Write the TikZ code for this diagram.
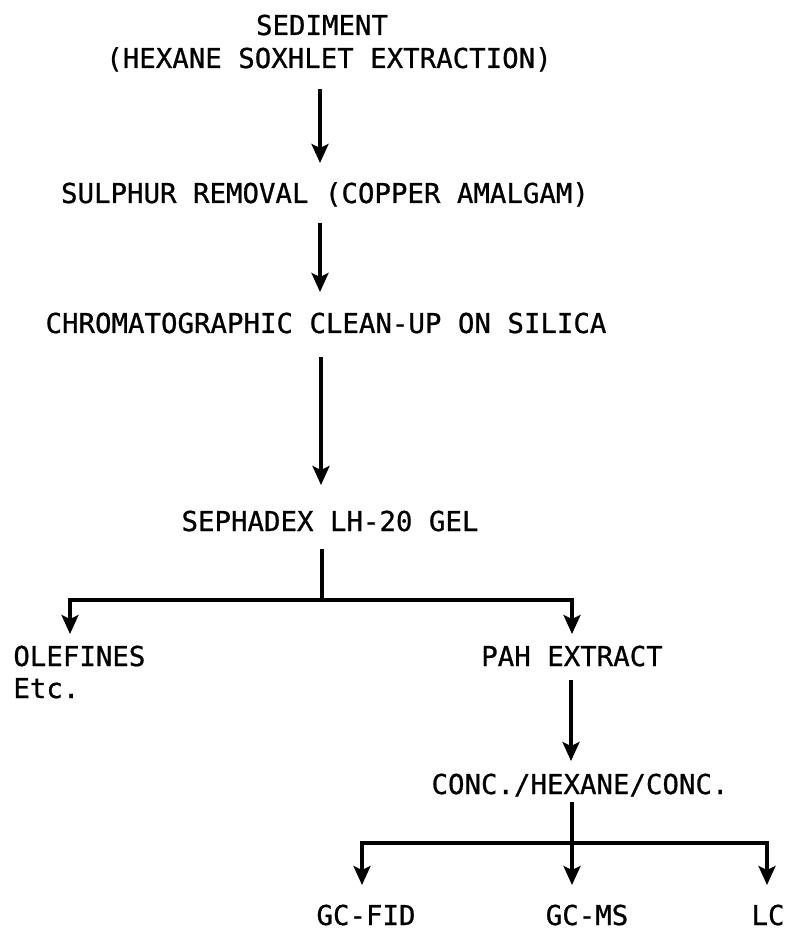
\documentclass[tikz,border=0pt]{standalone}
\usepackage{fontspec}
\newfontfamily\tw[FakeBold=0.8]{DejaVu Sans Mono}
\usetikzlibrary{arrows.meta}
\begin{document}
\begin{tikzpicture}[x=0.5pt,y=-0.5pt,
  lbl/.style={font=\tw\fontsize{13.7}{16}\selectfont, inner sep=0pt, anchor=base},
  lblw/.style={lbl, anchor=base west},
  arr/.style={line width=1.7pt, -{Stealth[length=9.5pt,width=8.5pt,inset=2pt]}},
  ln/.style={line width=1.7pt}]
\useasboundingbox (0,0) rectangle (790,929);
% texts
\node[lbl] (sed) at (322,35) {SEDIMENT};
\node[lbl] (hex) at (329,68) {(HEXANE SOXHLET EXTRACTION)};
\node[lbl] (sul) at (325,203) {SULPHUR REMOVAL (COPPER AMALGAM)};
\node[lbl] (chr) at (326,333) {CHROMATOGRAPHIC CLEAN-UP ON SILICA};
\node[lbl] (sep) at (330,531) {SEPHADEX LH-20 GEL};
\node[lblw] (ole) at (13,666) {OLEFINES};
\node[lblw] (etc) at (13,698) {Etc.};
\node[lbl] (pah) at (572,666) {PAH EXTRACT};
\node[lbl] (conc) at (580,794) {CONC./HEXANE/CONC.};
\node[lbl] (fid) at (366,925) {GC-FID};
\node[lbl] (ms) at (587,925) {GC-MS};
\node[lbl] (lc) at (768,925) {LC};
% connector end points
\coordinate (a1s) at (320,89);  \coordinate (a1e) at (320,163);
\coordinate (a2s) at (320,223); \coordinate (a2e) at (320,292);
\coordinate (a3s) at (321,357); \coordinate (a3e) at (321,485);
\coordinate (sepB) at (322,549); \coordinate (j1) at (322,600);
\coordinate (oleT) at (70,634); \coordinate (pahT) at (572,634);
\coordinate (pahB) at (571,680); \coordinate (concT) at (571,761);
\coordinate (concB) at (572,802); \coordinate (j2) at (572,843);
\coordinate (fidT) at (362,885); \coordinate (msT) at (572,885);
\coordinate (lcT) at (767,885);
% connectors
\draw[arr] (a1s) -- (a1e);
\draw[arr] (a2s) -- (a2e);
\draw[arr] (a3s) -- (a3e);
\draw[ln] (sepB) -- (j1);
\draw[arr] (j1) -| (oleT);
\draw[arr] (j1) -| (pahT);
\draw[arr] (pahB) -- (concT);
\draw[arr] (concB) -- (msT);
\draw[arr] (j2) -| (fidT);
\draw[arr] (j2) -| (lcT);
\end{tikzpicture}
\end{document}
